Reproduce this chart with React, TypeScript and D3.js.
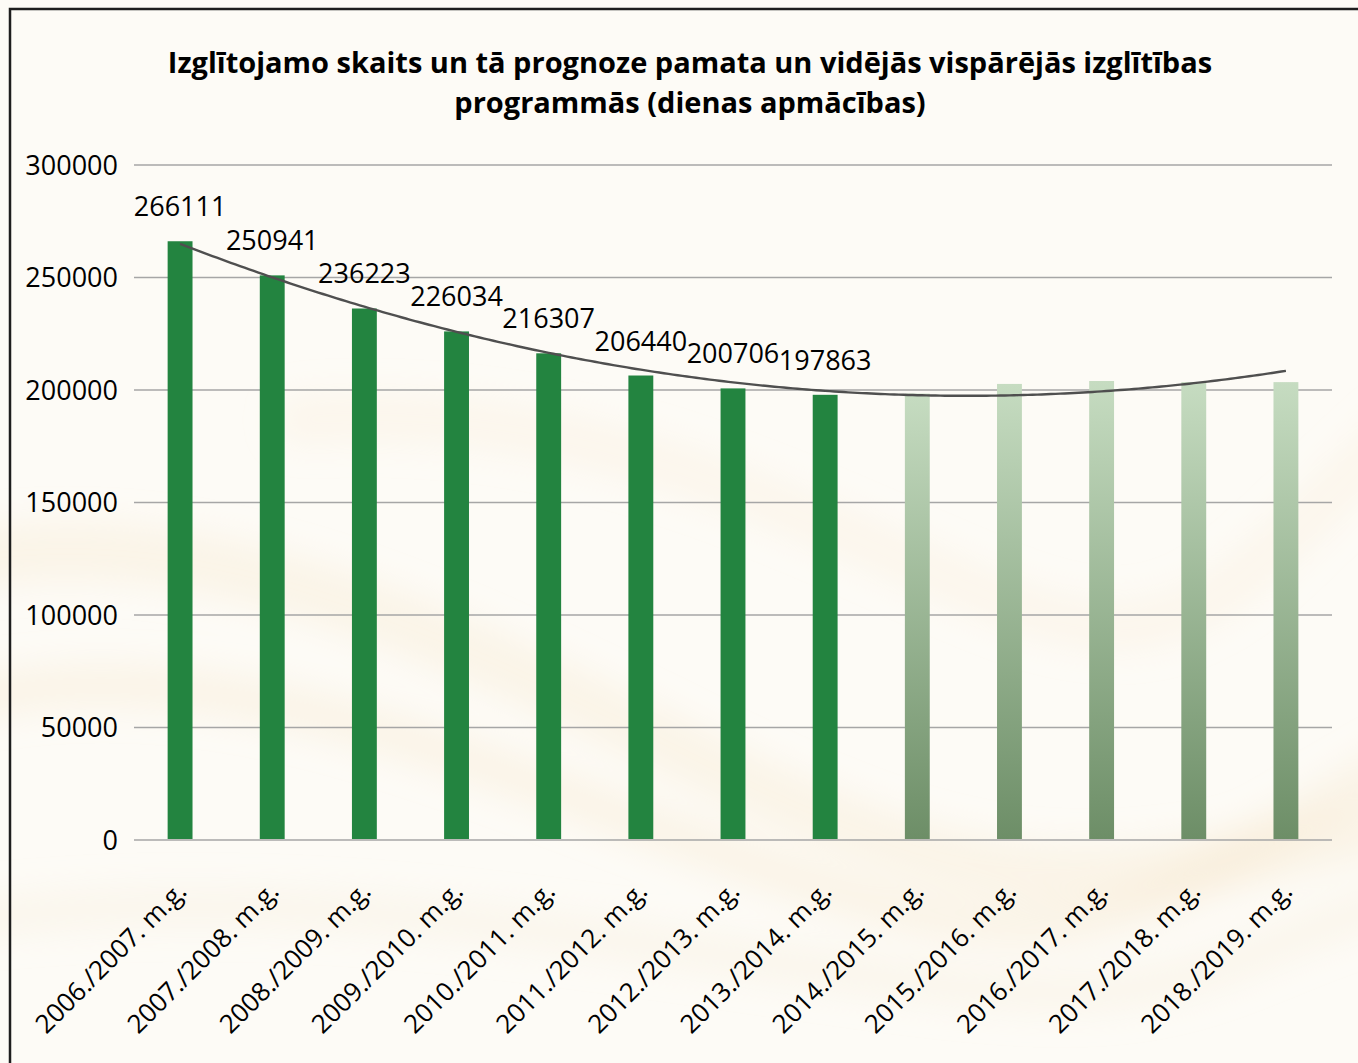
import React from "react";
import * as d3 from "d3";

// school years on the x axis
const years = [
  "2006./2007. m.g.",
  "2007./2008. m.g.",
  "2008./2009. m.g.",
  "2009./2010. m.g.",
  "2010./2011. m.g.",
  "2011./2012. m.g.",
  "2012./2013. m.g.",
  "2013./2014. m.g.",
  "2014./2015. m.g.",
  "2015./2016. m.g.",
  "2016./2017. m.g.",
  "2017./2018. m.g.",
  "2018./2019. m.g.",
];

// actual numbers of learners (labelled)
const actual = [266111, 250941, 236223, 226034, 216307, 206440, 200706, 197863];
// forecast (no labels)
const forecast = [198400, 202700, 204000, 203500, 203500];

const yTicks = [0, 50000, 100000, 150000, 200000, 250000, 300000];

const titleLines = [
  "Izglītojamo skaits un tā prognoze pamata un vidējās vispārējās izglītības",
  "programmās (dienas apmācības)",
];

const W = 1358;
const H = 1063;
const FONT = "'Open Sans', 'Noto Sans', sans-serif";

// least squares fit of a 2nd order polynomial (like Excel's trendline)
function quadFit(ys: number[]) {
  const n = ys.length;
  let s0 = n, s1 = 0, s2 = 0, s3 = 0, s4 = 0, t0 = 0, t1 = 0, t2 = 0;
  ys.forEach((y, i) => {
    const x = i + 1;
    s1 += x; s2 += x * x; s3 += x ** 3; s4 += x ** 4;
    t0 += y; t1 += x * y; t2 += x * x * y;
  });
  // solve [[s4 s3 s2][s3 s2 s1][s2 s1 s0]] [a b c] = [t2 t1 t0]
  const m = [
    [s4, s3, s2, t2],
    [s3, s2, s1, t1],
    [s2, s1, s0, t0],
  ];
  for (let c = 0; c < 3; c++) {
    for (let r = c + 1; r < 3; r++) {
      const f = m[r][c] / m[c][c];
      for (let k = c; k < 4; k++) m[r][k] -= f * m[c][k];
    }
  }
  const res = [0, 0, 0];
  for (let r = 2; r >= 0; r--) {
    let v = m[r][3];
    for (let k = r + 1; k < 3; k++) v -= m[r][k] * res[k];
    res[r] = v / m[r][r];
  }
  const [a, b, c] = res;
  return (x: number) => a * x * x + b * x + c;
}

export default function App() {
  const values = actual.concat(forecast);

  const x = d3
    .scaleBand<string>()
    .domain(years)
    .range([134, 1332])
    .paddingInner(0.73)
    .paddingOuter(0.365);

  const y = d3.scaleLinear().domain([0, 300000]).range([840, 165]);

  const trend = quadFit(values);
  const samples = d3.range(0, years.length - 1 + 0.001, 0.05);
  const center = (i: number) => x(years[0])! + x.bandwidth() / 2 + i * x.step();
  const trendPath = d3
    .line<number>()
    .x((t) => center(t))
    .y((t) => y(trend(t + 1)))(samples);

  return (
    <div style={{ position: "absolute", left: 0, top: 0 }}>
      <svg width={W} height={H} style={{ display: "block", fontFamily: FONT }}>
        <defs>
          <linearGradient id="fc" x1="0" y1="0" x2="0" y2="1">
            <stop offset="0" stopColor="#c6dcc1" />
            <stop offset="1" stopColor="#6d8e67" />
          </linearGradient>
          <filter id="blur" x="-20%" y="-50%" width="140%" height="200%">
            <feGaussianBlur stdDeviation="16" />
          </filter>
        </defs>

        {/* cream background with faint swooshes */}
        <rect width={W} height={H} fill="#fdfbf6" />
        <g filter="url(#blur)" fill="none" strokeLinecap="round">
          <path d="M-40,560 C200,520 420,620 700,760 S1100,900 1400,820" stroke="#f6e8cf" strokeWidth={60} opacity={0.35} />
          <path d="M-40,700 C250,640 500,780 800,880 S1150,900 1400,760" stroke="#f5e4c8" strokeWidth={45} opacity={0.3} />
          <path d="M300,420 C600,400 800,520 1000,600 S1250,560 1400,430" stroke="#f7ecd8" strokeWidth={50} opacity={0.3} />
          <path d="M-40,920 C300,880 600,940 900,980 S1200,960 1400,900" stroke="#f6ead6" strokeWidth={40} opacity={0.3} />
        </g>

        {/* frame */}
        <rect x={10} y={9} width={W + 20} height={H + 20} fill="none" stroke="#1e1e1e" strokeWidth={2.5} />

        {/* title */}
        <g fontWeight="bold" fontSize={29} fill="#000" textAnchor="middle">
          {titleLines.map((t, i) => (
            <text key={i} x={690} y={73 + i * 40}>
              {t}
            </text>
          ))}
        </g>

        {/* grid + y labels */}
        <g>
          {yTicks.map((t) => (
            <g key={t}>
              <line x1={134} x2={1332} y1={y(t)} y2={y(t)} stroke="#a6a6a6" strokeWidth={1.5} />
              <text x={118} y={y(t)} dy="0.36em" textAnchor="end" fontSize={27} fill="#000">
                {t}
              </text>
            </g>
          ))}
        </g>

        {/* bars */}
        <g>
          {values.map((v, i) => (
            <rect
              key={years[i]}
              x={x(years[i])}
              y={y(v)}
              width={x.bandwidth()}
              height={y(0) - y(v) - 1}
              fill={i < actual.length ? "#238440" : "url(#fc)"}
            />
          ))}
        </g>

        {/* trendline */}
        <path d={trendPath || ""} fill="none" stroke="#4f4f4f" strokeWidth={2.4} />

        {/* data labels */}
        <g fontSize={27} textAnchor="middle" fill="#000">
          {actual.map((v, i) => (
            <text key={i} x={x(years[i])! + x.bandwidth() / 2} y={y(v) - 25}>
              {v}
            </text>
          ))}
        </g>

        {/* x labels */}
        <g fontSize={26} textAnchor="end" fill="#000">
          {years.map((yr) => (
            <text
              key={yr}
              transform={`translate(${x(yr)! + x.bandwidth() / 2 + 8},893) rotate(-45)`}
            >
              {yr}
            </text>
          ))}
        </g>
      </svg>
    </div>
  );
}
